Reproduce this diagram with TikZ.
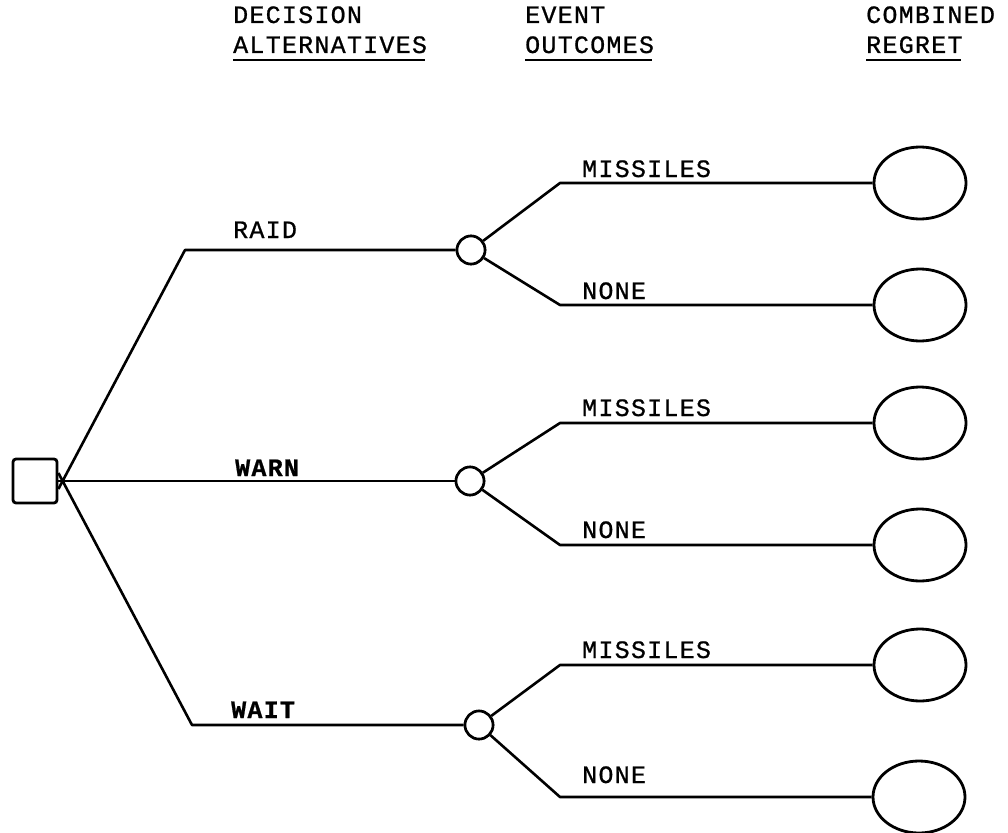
\documentclass[tikz,border=0pt]{standalone}
\usepackage{fontspec}
\newfontfamily\typewriter[LetterSpace=5, FakeBold=0.8]{Liberation Mono}
\usetikzlibrary{shapes.geometric}
\tikzset{
    tree-line/.style = {line width=2.6pt, line join=round},
    decision-box/.style = {draw, line width=2.8pt, rectangle, rounded corners=3pt, minimum size=44pt, inner sep=0pt},
    chance-node/.style = {draw, line width=2.6pt, circle, minimum size=28pt, inner sep=0pt, fill=white},
    regret-node/.style = {draw, line width=2.8pt, ellipse, minimum width=92pt, minimum height=72pt, inner sep=0pt},
    branch-label/.style = {font=\typewriter\fontsize{25}{28}\selectfont, anchor=base west, inner sep=0pt},
    strong-label/.style = {branch-label, font=\typewriter\bfseries\fontsize{25}{28}\selectfont},
    column-title/.style = {branch-label},
    title-rule/.style = {line width=2.6pt},
}
\begin{document}
\begin{tikzpicture}[x=1pt, y=-1pt]
\useasboundingbox (0,0) rectangle (1008,832);

% column titles
\node[column-title] (dec1) at (233,23) {DECISION};
\node[column-title] (dec2) at (233,53) {ALTERNATIVES};
\node[column-title] (evt1) at (525,23) {EVENT};
\node[column-title] (evt2) at (525,53) {OUTCOMES};
\node[column-title] (reg1) at (866,23) {COMBINED};
\node[column-title] (reg2) at (866,53) {REGRET};
\foreach \t in {dec2, evt2, reg2}
    \draw[title-rule] ([yshift=-7pt]\t.base west) -- ([yshift=-7pt,xshift=-2pt]\t.base east);

% decision and chance nodes
\node[decision-box] (start) at (35,481) {};
\node[chance-node] (raid) at (471,250) {};
\node[chance-node] (warn) at (470,481) {};
\node[chance-node] (wait) at (479,725) {};

% combined regret
\node[regret-node] (r1) at (920,183) {};
\node[regret-node] (r2) at (920,305) {};
\node[regret-node] (r3) at (920,423) {};
\node[regret-node] (r4) at (920,545) {};
\node[regret-node] (r5) at (920,665) {};
\node[regret-node] (r6) at (919,797) {};

% decision branches
\coordinate (raid-bend) at (185,250);
\coordinate (wait-bend) at (192,725);
\draw[tree-line] ([yshift=-8pt]start.east) -- (raid-bend) -- (raid);
\draw[tree-line] (start) -- (warn);
\draw[tree-line] ([yshift=8pt]start.east) -- (wait-bend) -- (wait);

% event branches
\draw[tree-line] (raid) -- (560,183) -- (r1.west);
\draw[tree-line] (raid) -- (560,305) -- (r2.west);
\draw[tree-line] (warn) -- (560,423) -- (r3.west);
\draw[tree-line] (warn) -- (560,545) -- (r4.west);
\draw[tree-line] (wait) -- (560,665) -- (r5.west);
\draw[tree-line] (wait) -- (560,797) -- (r6.west);
\node[chance-node] at (raid) {};
\node[chance-node] at (warn) {};
\node[chance-node] at (wait) {};

% labels
\node[branch-label] (l-raid) at (233,238) {RAID};
\node[strong-label] (l-warn) at (235,476) {WARN};
\node[strong-label] (l-wait) at (231,718) {WAIT};
\node[branch-label] (l-m1) at (582,177) {MISSILES};
\node[branch-label] (l-n1) at (582,299) {NONE};
\node[branch-label] (l-m2) at (582,416) {MISSILES};
\node[branch-label] (l-n2) at (582,538) {NONE};
\node[branch-label] (l-m3) at (582,658) {MISSILES};
\node[branch-label] (l-n3) at (582,783) {NONE};
\end{tikzpicture}
\end{document}
